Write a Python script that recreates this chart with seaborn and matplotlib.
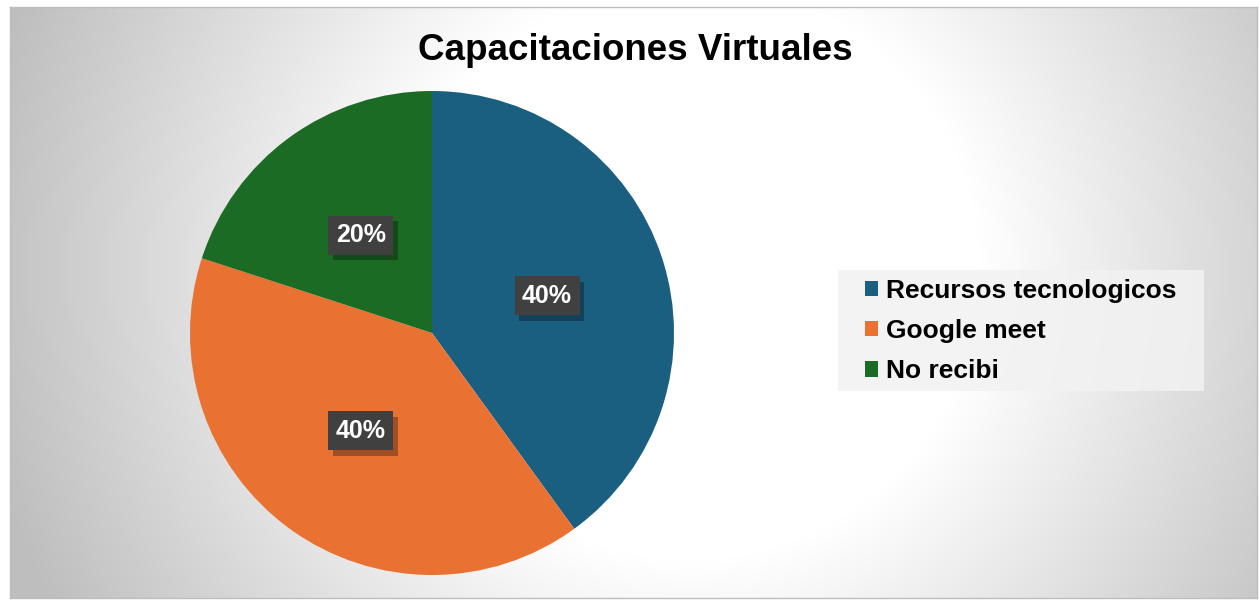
import numpy as np
import matplotlib
matplotlib.use("Agg")
import matplotlib.pyplot as plt
import matplotlib.patches as mpatches
import matplotlib.patheffects as pe
import seaborn as sns

# ---- data ----
categories = ["Recursos tecnologicos", "Google meet", "No recibi"]
values = [40, 40, 20]
pct_labels = ["40%", "40%", "20%"]
title = "Capacitaciones Virtuales"
colors = ["#1a5f80", "#e97132", "#1b6b25"]

sns.set_theme(style="white")
plt.rcParams["font.family"] = ["Liberation Sans", "DejaVu Sans"]

W, H = 1259, 603
fig = plt.figure(figsize=(W / 100, H / 100), dpi=100)
fig.patch.set_facecolor("white")

# ---- background radial gradient inside the chart frame ----
fx0, fy0, fx1, fy1 = 10, 7, 1257, 598  # pixel frame (top-left origin)
bg = fig.add_axes([fx0 / W, 1 - fy1 / H, (fx1 - fx0) / W, (fy1 - fy0) / H])
xs = np.arange(fx0, fx1)
ys = np.arange(fy0, fy1)
X, Y = np.meshgrid(xs, ys)
r = np.hypot(X - 690, Y - 270)
g = 255 - 0.15 * np.clip(r - 290, 0, None)
g = np.clip(g, 190, 255) / 255.0
bg.imshow(np.dstack([g, g, g]), aspect="auto", extent=(0, 1, 0, 1), origin="upper")
bg.set_xlim(0, 1)
bg.set_ylim(0, 1)
bg.set_xticks([])
bg.set_yticks([])
for s in bg.spines.values():
    s.set_color("#bdbdbd")
    s.set_linewidth(1.0)

# ---- pie ----
cx, cy, rad = 432, 333, 242
ax = fig.add_axes([(cx - rad) / W, 1 - (cy + rad) / H, 2 * rad / W, 2 * rad / H])
ax.set_facecolor("none")
wedges, _ = ax.pie(values, colors=colors, startangle=90, counterclock=False,
                   radius=1.0, wedgeprops=dict(linewidth=0))
ax.set_xlim(-1, 1)
ax.set_ylim(-1, 1)
ax.set_aspect("equal")
ax.axis("off")

# percentage labels at half radius
total = sum(values)
start = 90.0
for v, lab in zip(values, pct_labels):
    span = 360.0 * v / total
    mid = np.deg2rad(start - span / 2)
    start -= span
    x, y = 0.5 * np.cos(mid), 0.5 * np.sin(mid)
    t = ax.text(x, y, lab, ha="center", va="center", fontsize=18,
                fontweight="bold", color="white",
                bbox=dict(boxstyle="square,pad=0.3", facecolor="#404040",
                          edgecolor="none"))
    t.get_bbox_patch().set_path_effects([
        pe.SimplePatchShadow(offset=(3, -4), shadow_rgbFace="black", alpha=0.3),
        pe.Normal()])

# ---- title ----
fig.text(635 / W, 1 - 50 / H, title, ha="center", va="center", fontsize=26.5,
         fontweight="bold", color="black")

# ---- legend ----
lx0, ly0, lx1, ly1 = 838, 270, 1204, 391
fig.patches.append(mpatches.Rectangle((lx0 / W, 1 - ly1 / H), (lx1 - lx0) / W,
                                      (ly1 - ly0) / H, transform=fig.transFigure,
                                      facecolor="#f2f2f2", edgecolor="none",
                                      alpha=0.85, zorder=1))
handles = [mpatches.Patch(facecolor=c, edgecolor="none") for c in colors]
leg = fig.legend(handles, categories, loc="center left",
                 bbox_to_anchor=(865 / W, 1 - 331 / H), frameon=False,
                 prop=dict(weight="bold", size=19), handlelength=0.5,
                 handleheight=0.5, handletextpad=0.3, labelspacing=0.62,
                 borderaxespad=0, borderpad=0)
for t in leg.get_texts():
    t.set_color("black")

fig.savefig("out.png", dpi=100)
